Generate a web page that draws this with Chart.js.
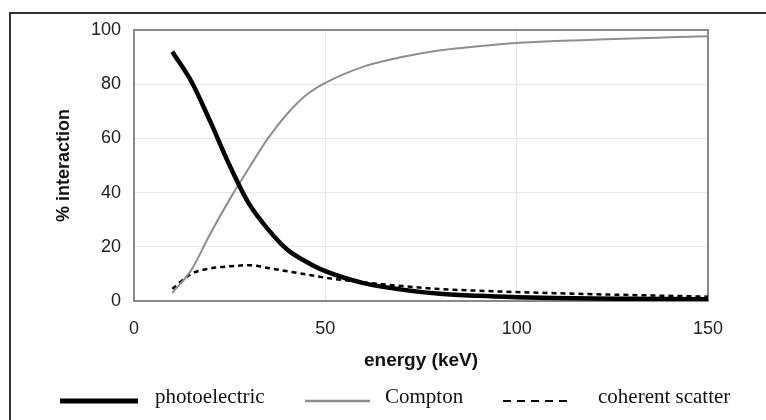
<!DOCTYPE html>
<html>
<head>
<meta charset="utf-8">
<script src="https://cdn.jsdelivr.net/npm/chart.js@4.4.1/dist/chart.umd.min.js"></script>
<style>
	html, body { margin: 0; padding: 0; background: #fff; }
	#wrap { position: relative; width: 766px; height: 420px; overflow: hidden; }
	#frame { position: absolute; left: 9px; top: 12px; width: 780px; height: 440px; border: 2px solid #333; }
	#mycanvas { position: absolute; left: 0; top: 0; }
</style>
</head>
<body>
<div id="wrap">
	<div id="frame"></div>
	<canvas id="mycanvas" width="766" height="420"></canvas>
</div>
<script>
var energy = [10, 15, 20, 25, 30, 35, 40, 45, 50, 60, 70, 80, 90, 100, 110, 120, 130, 140, 150];
var photoelectric = [92, 81, 66, 50, 36, 26.5, 19, 14.5, 11, 6.6, 4.2, 2.7, 1.9, 1.4, 1.1, 0.9, 0.8, 0.7, 0.6];
var compton = [3, 11.5, 25, 37.5, 49, 60, 69, 76, 80.5, 86.5, 90, 92.5, 94, 95.2, 95.9, 96.4, 96.9, 97.3, 97.7];
var coherent = [4.5, 10, 12, 12.8, 13.2, 12.2, 11, 9.8, 8.6, 6.9, 5.5, 4.4, 3.8, 3.3, 2.9, 2.5, 2.2, 1.9, 1.6];
var seriesNames = ['photoelectric', 'Compton', 'coherent scatter'];
var xTicks = [0, 50, 100, 150];
var yTicks = [0, 20, 40, 60, 80, 100];

function points(ys) {
	var out = [];
	for (var i in energy) {
		out.push({x: energy[i], y: ys[i]});
	}
	return out;
}

// grey box round the plot area
var plotBox = {
	id: 'plotBox',
	beforeDatasetsDraw: function(chart) {
		var a = chart.chartArea, ctx = chart.ctx;
		ctx.save();
		ctx.strokeStyle = '#8a8a8a';
		ctx.lineWidth = 2;
		ctx.strokeRect(a.left, a.top, a.right - a.left, a.bottom - a.top);
		ctx.restore();
	}
};

// legend drawn under the axis title, line samples like the original figure
var lineLegend = {
	id: 'lineLegend',
	afterDraw: function(chart, args, opts) {
		var ctx = chart.ctx;
		ctx.save();
		ctx.font = opts.font;
		ctx.fillStyle = '#111';
		ctx.textBaseline = 'alphabetic';
		opts.items.forEach(function(it, i) {
			var ds = chart.data.datasets[i];
			ctx.beginPath();
			ctx.strokeStyle = ds.borderColor;
			ctx.lineWidth = it.width;
			ctx.setLineDash(it.dash);
			ctx.moveTo(it.x0, opts.y);
			ctx.lineTo(it.x1, opts.y);
			ctx.stroke();
			ctx.setLineDash([]);
			ctx.fillText(ds.label, it.tx, opts.y + 2);
		});
		ctx.restore();
	}
};

var chartdata = {
	datasets: [
		{
			label: seriesNames[0],
			data: points(photoelectric),
			borderColor: '#000',
			borderWidth: 4.5,
			pointRadius: 0,
			cubicInterpolationMode: 'monotone'
		},
		{
			label: seriesNames[1],
			data: points(compton),
			borderColor: '#8e8e8e',
			borderWidth: 2,
			pointRadius: 0,
			cubicInterpolationMode: 'monotone'
		},
		{
			label: seriesNames[2],
			data: points(coherent),
			borderColor: '#000',
			borderWidth: 2.5,
			borderDash: [5, 4],
			pointRadius: 0,
			cubicInterpolationMode: 'monotone'
		}
	]
};

var ctx = document.getElementById('mycanvas');

var lineGraph = new Chart(ctx, {
	type: 'line',
	data: chartdata,
	plugins: [plotBox, lineLegend],
	options: {
		responsive: false,
		animation: false,
		layout: { padding: { left: 0, top: 30, right: 58, bottom: 45 } },
		plugins: {
			legend: { display: false },
			tooltip: { enabled: false },
			lineLegend: {
				y: 401,
				font: '21px "Liberation Serif", serif',
				items: [
					{ x0: 60, x1: 138, tx: 155, width: 5, dash: [] },
					{ x0: 305, x1: 370, tx: 385, width: 2.5, dash: [] },
					{ x0: 503, x1: 570, tx: 598, width: 2, dash: [8, 6] }
				]
			}
		},
		scales: {
			x: {
				type: 'linear',
				min: xTicks[0],
				max: xTicks[xTicks.length - 1],
				afterBuildTicks: function(scale) {
					scale.ticks = xTicks.map(function(v) { return {value: v}; });
				},
				afterFit: function(scale) { scale.height = 74; },
				grid: { color: '#e6e6e6', drawTicks: false },
				border: { display: false },
				ticks: {
					padding: 17,
					color: '#222',
					font: { family: '"Liberation Sans", Arial, sans-serif', size: 18 }
				},
				title: {
					display: true,
					text: 'energy (keV)',
					color: '#111',
					padding: { top: 0, bottom: 3 },
					font: { family: '"Liberation Sans", Arial, sans-serif', size: 19, weight: 'bold' }
				}
			},
			y: {
				min: yTicks[0],
				max: yTicks[yTicks.length - 1],
				afterBuildTicks: function(scale) {
					scale.ticks = yTicks.map(function(v) { return {value: v}; });
				},
				afterFit: function(scale) { scale.width = 134; },
				grid: { color: '#e6e6e6', drawTicks: false },
				border: { display: false },
				ticks: {
					padding: 13,
					color: '#222',
					font: { family: '"Liberation Sans", Arial, sans-serif', size: 18 }
				},
				title: {
					display: true,
					text: '% interaction',
					color: '#111',
					padding: { top: 53, bottom: 0 },
					font: { family: '"Liberation Sans", Arial, sans-serif', size: 18, weight: 'bold' }
				}
			}
		}
	}
});
</script>
</body>
</html>
